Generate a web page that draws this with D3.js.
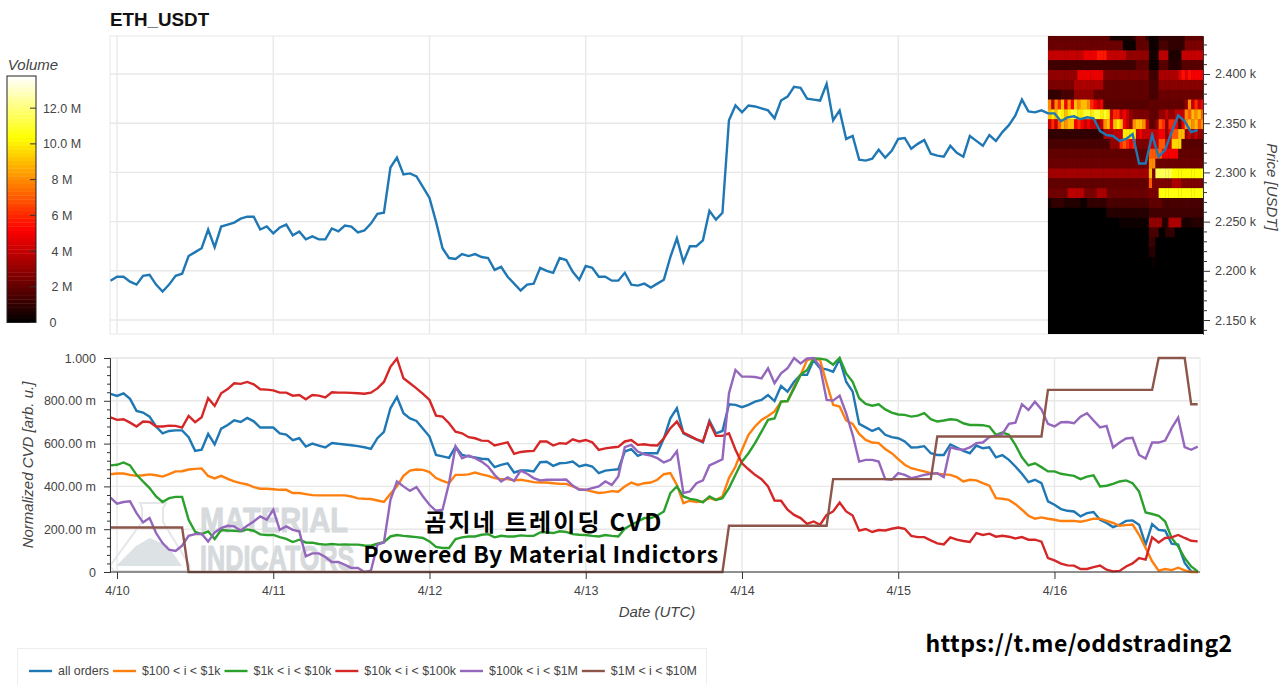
<!DOCTYPE html>
<html>
<head>
<meta charset="utf-8">
<script src="https://cdn.jsdelivr.net/npm/d3@7"></script>
<style>
	html, body { margin: 0; padding: 0; background: #fff; overflow: hidden; }
	svg { display: block; }
	text { font-family: "Liberation Sans", Arial, sans-serif; }
	.overlay { font-family: "Noto Sans CJK KR", "Noto Sans", sans-serif; font-weight: 700; fill: #000; }
	.tick text { fill: #444; }
</style>
</head>
<body>
<script>
const width = 1280
const height = 685

// hourly close, USDT
const price = [
	2190,2194,2194,2189,2186,2195,2196,2186,2179,2186,2195,2197,2215,2219,2223,2242,2224,2245,2247,2249,
	2253,2255,2255,2242,2245,2238,2244,2247,2236,2240,2232,2235,2232,2232,2243,2240,2246,2245,2239,2241,
	2248,2258,2259,2305,2315,2298,2299,2296,2285,2274,2250,2223,2213,2212,2217,2215,2217,2214,2213,2201,
	2204,2194,2187,2180,2186,2187,2203,2200,2198,2213,2211,2199,2191,2205,2203,2194,2194,2190,2190,2198,
	2186,2185,2187,2183,2187,2191,2214,2233,2209,2225,2225,2231,2261,2252,2259,2353,2368,2361,2368,2367,
	2365,2363,2355,2373,2377,2387,2386,2375,2374,2373,2390,2353,2363,2334,2337,2313,2312,2314,2323,2315,
	2322,2334,2335,2324,2329,2333,2319,2317,2316,2327,2320,2316,2337,2332,2327,2338,2332,2341,2348,2358,
	2374,2362,2361,2363,2360,2360,2352,2356,2357,2354,2356,2355,2342,2338,2337,2332,2334,2339,2309,2309,
	2338,2316,2323,2341,2358,2352,2341,2343
]

// normalized CVD, milli units
const allOrders = [
	832,823,835,809,753,745,726,680,648,659,662,662,630,566,572,645,596,670,687,709,
	701,720,704,675,675,675,648,642,616,625,586,600,591,582,603,599,596,592,588,583,
	575,625,655,765,818,742,718,706,669,633,547,540,533,586,547,540,535,529,527,490,
	501,508,465,474,474,470,513,515,496,508,510,516,493,501,493,462,474,477,480,563,
	574,543,555,555,555,625,718,765,648,633,620,606,707,648,659,784,781,770,781,796,
	804,827,799,869,843,889,921,921,990,952,947,936,994,889,843,692,676,659,672,641,
	630,625,610,582,583,588,555,547,547,596,582,566,555,591,578,583,536,546,524,493,
	459,420,431,415,330,314,294,286,283,260,275,280,244,229,210,221,239,241,221,128,
	224,197,193,132,128,42,3,0
]
const orders100to1k = [
	457,460,460,454,449,452,456,452,446,457,470,471,479,482,484,449,437,449,435,423,
	415,409,397,389,389,387,384,384,369,369,364,359,358,358,358,358,358,353,344,342,
	341,334,327,365,400,449,474,479,477,467,439,426,415,454,454,456,465,456,449,439,
	434,434,428,431,426,420,418,418,415,412,412,400,387,384,376,369,372,378,375,400,
	418,407,415,418,431,457,462,407,322,333,327,330,345,337,353,439,493,571,641,680,
	711,729,750,796,799,866,921,990,998,990,882,781,773,708,692,645,617,605,602,575,
	555,527,501,485,477,470,462,459,456,454,443,423,431,428,415,403,345,342,337,317,
	291,263,249,255,249,244,238,238,239,235,241,249,249,239,229,216,219,222,174,112,
	50,6,14,9,20,8,0,0
]
const orders1kto10k = [
	498,501,512,498,454,423,392,353,327,345,351,351,244,188,177,190,154,196,194,193,
	190,199,193,176,173,173,163,155,140,151,138,137,131,128,131,128,129,128,128,124,
	123,132,140,166,173,169,166,163,159,143,117,112,112,154,162,166,166,174,177,162,
	169,166,166,171,169,169,185,185,182,190,187,177,174,173,169,166,173,169,166,202,
	221,236,252,252,264,283,369,400,353,342,337,325,353,337,345,392,454,516,555,602,
	656,711,718,796,799,858,921,944,998,997,991,969,1000,928,889,812,785,777,784,760,
	745,736,734,726,731,742,714,703,708,714,711,695,687,687,686,680,641,652,641,594,
	536,498,508,490,470,470,459,454,449,434,446,452,400,403,412,423,428,415,376,278,
	271,263,236,159,120,65,26,3
]
const orders10kto100k = [
	722,711,714,698,680,703,701,680,680,684,683,675,729,700,723,812,776,835,855,882,
	879,888,877,854,852,849,838,838,824,827,807,827,824,816,840,838,838,837,835,833,
	838,858,888,959,998,905,882,858,832,804,731,726,695,656,648,630,625,614,613,591,
	599,606,552,561,564,566,610,610,591,602,599,620,610,617,606,571,578,582,585,610,
	617,594,597,592,591,625,672,703,652,636,620,610,700,636,636,648,571,508,480,454,
	434,400,334,333,291,267,252,225,236,221,267,283,325,283,264,193,201,187,196,194,
	202,208,202,169,163,163,148,134,129,162,151,145,140,182,173,179,165,169,165,157,
	163,151,151,142,65,54,39,31,30,14,14,23,30,11,3,5,26,40,65,58,
	162,138,159,162,173,159,146,143
]
const orders100kto1M = [
	348,319,327,330,275,232,252,182,135,104,98,123,169,177,179,142,185,205,216,213,
	194,216,236,260,244,291,197,213,197,190,73,87,87,70,47,47,34,19,19,0,
	6,128,138,337,423,400,379,397,353,314,286,291,415,586,532,544,532,516,493,454,
	423,442,426,474,459,439,428,431,431,431,432,404,384,384,392,400,423,407,446,583,
	594,563,550,544,532,512,524,564,369,376,415,428,498,512,527,835,944,913,913,911,
	905,952,882,928,952,1000,975,998,1000,959,804,801,824,742,641,516,524,524,516,434,
	431,462,454,439,446,454,459,462,443,582,575,571,582,602,605,630,636,645,692,698,
	784,757,796,760,692,680,700,701,695,726,742,708,676,683,582,605,624,627,547,530,
	605,605,614,672,721,583,571,586
]
const orders1Mto10M = [
	208,208,208,208,208,208,208,208,208,208,208,208,0,0,0,0,0,0,0,0,
	0,0,0,0,0,0,0,0,0,0,0,0,0,0,0,0,0,0,0,0,
	0,0,0,0,0,0,0,0,0,0,0,0,0,0,0,0,0,0,0,0,
	0,0,0,0,0,0,0,0,0,0,0,0,0,0,0,0,0,0,0,0,
	0,0,0,0,0,0,0,0,0,0,0,0,0,0,0,216,216,216,216,216,
	216,216,216,216,216,216,216,216,216,216,216,434,434,434,434,434,434,434,434,434,
	434,434,434,434,434,434,434,633,633,633,633,633,633,633,633,633,633,633,633,633,633,633,
	633,633,851,851,851,851,851,851,851,851,851,851,851,851,851,851,851,851,851,1000,
	1000,1000,1000,1000,784,784,784
]

const seriesNames = ['all orders', '$100 < i < $1k', '$1k < i < $10k', '$10k < i < $100k', '$100k < i < $1M', '$1M < i < $10M']
const seriesColors = ['#1f77b4', '#ff7f0e', '#2ca02c', '#d62728', '#9467bd', '#8c564b']
const cvdSeries = [allOrders, orders100to1k, orders1kto10k, orders10kto100k, orders100kto1M, orders1Mto10M]

// order book volume in M per half hour column, top price bin first
const heatTopPrice = 2444
const heatBinSize = 10
const heatRows = [
	[2,2,2,2,2,2,2,2,2,2,2,2,2,2,2,2,2,2,2,.5,.5,.5,.5,.5,.5,.5,1,2,2,2,1,.3,.3,.3,1,1,1,1,1,1,1,1,2,2,2,2,2,2],
	[2.2,2.2,2.2,2.2,2.2,2.2,2.2,2.2,2.2,2.2,2.2,2.2,2.2,2.2,2.2,2.2,2.2,2.2,2.2,2.2,2.2,2.2,2.2,.3,.3,.3,.3,2,2,2,2,.3,.3,.3,1.5,1.5,1.5,1,1,1,1,1,2.5,2.5,2.5,2.5,2.5,2.5],
	[4,4,4,4,4,4,4,4,4,4,4,4.8,4.8,4.8,4.8,5.6,5.6,5.6,4,4,4,4,4,4,3,3,3,3,3,3,3,.5,.5,.5,3.8,3.8,3.8,.6,.6,.6,.6,4,4,4,4,4,4,4],
	[1.3,1.3,1.3,1.3,1.3,1.3,1.3,1.3,1.3,1.3,1.3,1.3,1.3,1.3,1.3,1.3,1.3,1.3,1.3,1.3,1.3,1.3,1.3,1.3,1.3,1.3,1.3,2,2,2,2,.3,.3,.3,1.8,1.8,1.8,.8,.8,.8,.8,1.8,1.8,1.8,1.8,1.8,1.8,1.8],
	[3,3,3,3,3,3,3,3,3,4.8,4.8,4.8,4.8,4.8,4.8,4.8,4.8,2.5,2.5,2.5,2.5,2.5,2.5,2.5,2.5,2.5,2.5,2.5,2.5,2.5,2.5,1.3,1.3,1.3,3.5,3.5,3.5,3.5,3.5,3.5,4.5,5.5,4.5,5.5,5,5,5,5],
	[2.5,2.5,2.5,2.5,2.5,2.5,2.5,2.5,3.5,3.5,3.5,3.5,3.5,3.5,3.5,3.5,3.5,2,2,2,2,2,2,2,2,2,2,2,2,2,2,1.5,1.5,1.5,2.8,2.8,2.8,2.8,2.8,2.8,2.8,2.8,2.8,2.8,2.8,2.8,2.8,2.8],
	[1,1,1,1,1.5,1.5,1.5,1.5,3,3,3,3,3,3,2,2,2,2,2,2,2,2,2,2,2,2,2,2,2,2,2,1.5,1.5,1.5,2.2,2.2,2.2,2.2,2.2,2.2,2.2,2.2,2.2,2.2,2.2,2.2,2.2,2.2],
	[8,4,8,6,9,5,8,5,9,8,9,9,8,6,5,4,5,1.8,1.8,1.8,1.8,1.8,1.8,1.8,1.8,1.8,1.8,1.8,1.8,1.8,1.8,2,2,2,2,2,2,2,2,2,2,2,3,8,4,6,4,5],
	[9,10,9,11,10,9,10,11,11,10,10,11,11,10,11,11,10,11,10,4,6,6,4,5,4,3,2.5,2.5,2.5,2.5,2.5,2,2,2,3,3,4,3,3,4,4,4,8,7,9,8,9,7],
	[4,6,4,7,9,8,9,9,5,6,5,4,5,4,4,3,4,8,9,5,9,10,9,5,4,3,8,9,9,8,4,2,2,3,7,6,3,6,6,5,2,5,8,9,8,9,7,8],
	[1,1,1,1,1,1,1,1,1,1,1,1,1,1,1,1,1,3.5,3.5,3.5,4,4,4,10,10,10,10,4,5,4,4,4,4,4,5,5,3,5,7,7,9,9,3,4,3,4,3,3],
	[1.5,1.5,1.5,1.5,1.5,1.5,1.5,1.5,1.5,1.5,1.5,1.5,1.5,1.5,1.5,1.5,1.5,1.5,1.5,3,3,3,6,7,6,5,6,2.5,2.5,2.5,2.5,4,4,4,7,7,4,4,9.5,9.5,9.5,1.8,1.8,1.8,1.8,1.8,1.8,1.8],
	[2,2,2,2,2,2,2,2,2,2,2,2,2,2,2,2,2,2,2,2,2,2,2,2,2,2,2,2,2,2,2,7,7,7,7,5,5,5,5,5,2,2,2,2,2,2,2,2],
	[2.2,2.2,2.2,2.2,2.2,2.2,2.2,2.2,2.2,2.2,2.2,2.2,2.2,2.2,2.2,2.2,2.2,2.2,2.2,2.2,2.2,2.2,2.2,2.2,2.2,2.2,2.2,2.2,2.2,2.2,2.2,8,8,2.2,2.2,2.2,2.2,2.2,2.2,2.2,2.2,2.2,2.2,2.2,2.2,2.2,2.2,2.2],
	[3.3,3.3,3.3,3.3,3.3,3.3,3.3,3.3,3.3,3.3,3.3,3.3,3.3,3.3,3.3,3.3,3.3,3.3,3.3,3.3,3.3,3.3,3.3,3.3,3.3,3.3,3.3,3.3,3.3,3.3,3.3,9,2.5,11.5,11.5,11.5,11.5,11.5,10.3,10.3,10.3,10.3,10.3,10.3,10.3,10.3,10.3,10.3],
	[2,2,2,2,2,2,2,2,2,2,2,2,2,2,2,2,2,2,2,2,2,2,2,2,2,2,2,2,2,2,2,7,2.5,2.5,2.5,2.5,2.5,2.5,3.5,3.5,3.5,2.5,2.5,2.5,2.5,2.5,2.5,2.5],
	[2.3,2.3,2.3,2.3,2.3,2.3,3.8,3.8,3.8,3.8,3.8,2.5,2.5,2.5,2.5,3.5,3.5,3.5,2.2,2.2,2.2,2.2,2.2,2.2,2.2,2.2,2.2,2.2,2.2,2.2,2.2,2.5,2.5,2.5,10.5,10.5,10.5,10.5,10.5,10.5,10.5,10.5,10.5,10.5,10.5,10.5,10.5,10.5],
	[.5,1,1,1,1,.7,.7,.7,.7,.7,.3,.3,1,1,1,1,1,1,1.5,1.5,1.5,1.5,1.5,1.5,1.5,1.5,1.5,1.5,1.5,1.5,1.5,2,2,2,2,1.5,1.5,1.5,1.5,1.5,1.5,1.5,1.5,1.5,1.5,1.5,1.5,1.5],
	[.1,.1,.1,.1,.1,.1,.1,.1,.1,.1,.1,.1,.1,.1,.1,.1,.1,.1,.8,.8,.8,.8,.8,.8,.8,.8,.8,.8,.8,.8,.8,1.3,1.3,1.3,1.3,1.3,1.3,1.3,1.3,1.3,1.3,1.3,1.3,1.3,1.3,1.3,1.3,1.3],
	[.1,.1,.1,.1,.1,.1,.1,.1,.1,.1,.1,.1,.1,.1,.1,.1,.1,.1,.1,.1,.1,.1,.3,.3,.3,.3,.3,.3,.3,.3,.3,3,3,3,3,.8,.8,3.5,3.5,3.5,3.5,.5,.5,.5,.8,.8,.8,.8],
	[.1,.1,.1,.1,.1,.1,.1,.1,.1,.1,.1,.1,.1,.1,.1,.1,.1,.1,.1,.1,.1,.1,.1,.1,.1,.1,.1,.1,.1,.1,.1,1.5,1.5,1.5,.1,.1,1,1,1,.1,.1,.1,.1,.1,.1,.1,.1,.1],
	[0,0,0,0,0,0,0,0,0,0,0,0,0,0,0,0,0,0,0,0,0,0,0,0,0,0,0,0,0,0,0,1.2,1.2,0,0,0,0,0,0,0,0,0,0,0,0,0,0,0],
	[0,0,0,0,0,0,0,0,0,0,0,0,0,0,0,0,0,0,0,0,0,0,0,0,0,0,0,0,0,0,0,.8,.8,0,0,0,0,0,0,0,0,0,0,0,0,0,0,0],
	[0,0,0,0,0,0,0,0,0,0,0,0,0,0,0,0,0,0,0,0,0,0,0,0,0,0,0,0,0,0,0,0,.3,0,0,0,0,0,0,0,0,0,0,0,0,0,0,0]
]

const priceTicks = [2150, 2200, 2250, 2300, 2350, 2400]
const cvdTicks = [0, 200, 400, 600, 800, 1000]
const cvdTickLabels = ['0', '200.00 m', '400.00 m', '600.00 m', '800.00 m', '1.000']
const volumeTicks = [0, 2, 4, 6, 8, 10, 12]
const volumeTickLabels = ['0', '2 M', '4 M', '6 M', '8 M', '10.0 M', '12.0 M']

const times = d3.utcHour.range(new Date(Date.UTC(2021, 3, 9, 23)), new Date(Date.UTC(2021, 3, 16, 23)))
const heatStart = new Date(Date.UTC(2021, 3, 15, 23))

const topPlot = { left: 110, right: 1203, top: 36, bottom: 334 }
const bottomPlot = { left: 110, right: 1200, top: 358, bottom: 572 }
const gridColor = '#e8e8e8'
const axisColor = '#333'

const svg = d3.select('body')
	.append('svg')
	.attr('width', width)
	.attr('height', height)

const xScale = d3.scaleUtc()
	.domain([times[0], times[times.length - 1]])
	.range([110.5, 1197.7])

const priceScale = d3.scaleLinear()
	.domain([2135.8, 2438.6])
	.range([topPlot.bottom, topPlot.top])

const cvdScale = d3.scaleLinear()
	.domain([0, 1000])
	.range([bottomPlot.bottom, bottomPlot.top])

const volumeScale = d3.scaleLinear()
	.domain([0, 13.8])
	.range([322.5, 76])

const heatColor = d3.scaleLinear()
	.domain([0, 5.2, 10.35, 13.8])
	.range(['#000000', '#ff0000', '#ffff00', '#ffffff'])
	.clamp(true)

const days = d3.utcDay.range(new Date(Date.UTC(2021, 3, 10)), new Date(Date.UTC(2021, 3, 17)))
const dayFormat = d3.utcFormat('%-m/%-d')

// grids
const drawGrid = (plot, yScale, yTicks) => {
	const g = svg.append('g')
	g.selectAll('.v').data(days).enter().append('line')
		.attr('x1', d => xScale(d)).attr('x2', d => xScale(d))
		.attr('y1', plot.top).attr('y2', plot.bottom)
		.attr('stroke', gridColor).attr('stroke-width', 1.4)
	g.selectAll('.h').data(yTicks).enter().append('line')
		.attr('x1', plot.left).attr('x2', plot.right)
		.attr('y1', d => yScale(d)).attr('y2', d => yScale(d))
		.attr('stroke', gridColor).attr('stroke-width', 1.4)
	g.append('rect')
		.attr('x', plot.left).attr('y', plot.top)
		.attr('width', plot.right - plot.left).attr('height', plot.bottom - plot.top)
		.attr('fill', 'none').attr('stroke', gridColor)
}

drawGrid(topPlot, priceScale, priceTicks)
drawGrid(bottomPlot, cvdScale, cvdTicks)

// heatmap, soft edges like the reference raster
const defs = svg.append('defs')
defs.append('clipPath').attr('id', 'top-clip').append('rect')
	.attr('x', topPlot.left).attr('y', topPlot.top)
	.attr('width', topPlot.right - topPlot.left).attr('height', topPlot.bottom - topPlot.top)
defs.append('filter').attr('id', 'soft')
	.attr('x', '-2%').attr('y', '-2%').attr('width', '104%').attr('height', '104%')
	.append('feGaussianBlur').attr('stdDeviation', 0.7)

const heatClip = svg.append('g').attr('clip-path', 'url(#top-clip)')
heatClip.append('rect')
	.attr('x', xScale(heatStart)).attr('y', topPlot.top)
	.attr('width', topPlot.right - xScale(heatStart)).attr('height', topPlot.bottom - topPlot.top)
	.attr('fill', heatColor(0))
const heat = heatClip.append('g').attr('filter', 'url(#soft)')

heatRows.forEach((row, r) => {
	const binTop = heatTopPrice - r * heatBinSize
	heat.selectAll(null).data(row).enter().append('rect')
		.attr('x', (d, c) => xScale(d3.utcMinute.offset(heatStart, c * 30)))
		.attr('y', priceScale(binTop))
		.attr('width', (d, c) => xScale(d3.utcMinute.offset(heatStart, (c + 1) * 30)) - xScale(d3.utcMinute.offset(heatStart, c * 30)) + 0.4)
		.attr('height', priceScale(binTop - heatBinSize) - priceScale(binTop) + 0.4)
		.attr('fill', d => heatColor(d))
})

// watermark sits under the lines
const mark = svg.append('g').attr('fill', '#d6dadc')
mark.append('path')
	.attr('d', 'M140 503 L166 503 L163 508 L163 522 L190 566 L186 571 L114 571 L110 566 L142 522 L142 508 Z')
	.attr('fill', 'none').attr('stroke', '#e4e6e8').attr('stroke-width', 2)
mark.append('path')
	.attr('d', 'M116 566 L136 546 L150 538 L168 546 L182 566 Z')
	.attr('fill', '#dde3e5')
mark.append('text').attr('transform', 'translate(200,532) scale(0.83,1)').attr('font-size', 35).attr('font-weight', 700)
	.attr('stroke', '#d6dadc').attr('stroke-width', 1)
	.style('font-family', '"Liberation Sans"').text('MATERIAL')
mark.append('text').attr('transform', 'translate(200,570) scale(0.72,1)').attr('font-size', 35).attr('font-weight', 700)
	.attr('stroke', '#d6dadc').attr('stroke-width', 1)
	.style('font-family', '"Liberation Sans"').text('INDICATORS')

// lines
const lineMaker = yScale => d3.line()
	.x((d, i) => xScale(times[i]))
	.y(d => yScale(d))

svg.append('path')
	.attr('d', lineMaker(priceScale)(price))
	.attr('fill', 'none')
	.attr('stroke', seriesColors[0])
	.attr('stroke-width', 2.4)

svg.selectAll('.cvd').data(cvdSeries).enter().append('path')
	.attr('class', 'cvd')
	.attr('d', d => lineMaker(cvdScale)(d))
	.attr('fill', 'none')
	.attr('stroke', (d, i) => seriesColors[i])
	.attr('stroke-width', 2.4)

// axes
const styleAxis = (g, fontSize) => {
	g.selectAll('.domain').attr('stroke', axisColor)
	g.selectAll('.tick line').attr('stroke', axisColor)
	g.selectAll('.tick text').attr('font-size', fontSize)
	g.attr('font-family', null)
}

const priceMinor = d3.range(2140, 2440, 10).filter(d => d % 50 !== 0)
svg.append('g')
	.attr('transform', `translate(${topPlot.right},0)`)
	.call(d3.axisRight(priceScale).tickValues(priceMinor).tickSize(4).tickFormat('').tickSizeOuter(0))
	.call(g => g.selectAll('.tick line').attr('stroke', axisColor))
	.call(g => g.select('.domain').attr('stroke', axisColor))
svg.append('g')
	.attr('transform', `translate(${topPlot.right},0)`)
	.call(d3.axisRight(priceScale).tickValues(priceTicks).tickSize(7).tickPadding(5).tickSizeOuter(0)
		.tickFormat(d => `${d3.format('.3f')(d / 1000)} k`))
	.call(g => styleAxis(g, 12.5))

const cvdMinor = d3.range(0, 1001, 40).filter(d => d % 200 !== 0)
svg.append('g')
	.attr('transform', `translate(${bottomPlot.left},0)`)
	.call(d3.axisLeft(cvdScale).tickValues(cvdMinor).tickSize(3).tickFormat('').tickSizeOuter(0))
	.call(g => g.selectAll('.tick line').attr('stroke', axisColor))
	.call(g => g.select('.domain').attr('stroke', axisColor))
svg.append('g')
	.attr('transform', `translate(${bottomPlot.left},0)`)
	.call(d3.axisLeft(cvdScale).tickValues(cvdTicks).tickSize(6).tickPadding(8).tickSizeOuter(0)
		.tickFormat((d, i) => cvdTickLabels[i]))
	.call(g => styleAxis(g, 12.5))

svg.append('g')
	.attr('transform', `translate(0,${bottomPlot.bottom})`)
	.call(d3.axisBottom(xScale).tickValues(days).tickSize(7).tickPadding(7).tickFormat(dayFormat).tickSizeOuter(0))
	.call(g => styleAxis(g, 12.5))
	.call(g => g.select('.domain').attr('d', `M${bottomPlot.left},0H${bottomPlot.right}`))

// titles
svg.append('text').attr('x', 110).attr('y', 26)
	.attr('font-size', 18.8).attr('font-weight', 700).attr('fill', '#111').text('ETH_USDT')

const axisLabel = (x, y, rotate, text) => svg.append('text')
	.attr('transform', `translate(${x},${y}) rotate(${rotate})`)
	.attr('text-anchor', 'middle')
	.attr('font-size', 15).attr('font-style', 'italic').attr('fill', '#444')
	.text(text)

axisLabel(33, 465, -90, 'Normalized CVD [arb. u.]')
axisLabel(657, 617, 0, 'Date (UTC)')
axisLabel(1267, 187, 90, 'Price [USDT]')
axisLabel(33, 70, 0, 'Volume')

// colorbar
const barSteps = d3.range(64)
const barStep = (volumeScale.domain()[1]) / barSteps.length
svg.append('g').selectAll('rect').data(barSteps).enter().append('rect')
	.attr('x', 7).attr('width', 29)
	.attr('y', d => volumeScale((d + 1) * barStep))
	.attr('height', d => volumeScale(d * barStep) - volumeScale((d + 1) * barStep) + 0.4)
	.attr('fill', d => heatColor((d + 0.5) * barStep))
svg.append('rect')
	.attr('x', 7).attr('y', volumeScale.range()[1])
	.attr('width', 29).attr('height', volumeScale.range()[0] - volumeScale.range()[1])
	.attr('fill', 'none').attr('stroke', '#222').attr('stroke-width', 1)

const volumeAxis = svg.append('g')
volumeAxis.selectAll('line').data(volumeTicks).enter().append('line')
	.attr('x1', 30).attr('x2', 36)
	.attr('y1', d => volumeScale(d)).attr('y2', d => volumeScale(d))
	.attr('stroke', '#333')
volumeAxis.selectAll('text').data(volumeTicks).enter().append('text')
	.attr('x', d => d === 0 ? 53 : 62)
	.attr('y', d => volumeScale(d) + 4.5)
	.attr('text-anchor', 'middle')
	.attr('font-size', 12.5).attr('fill', '#444')
	.text((d, i) => volumeTickLabels[i])

// legend
svg.append('rect')
	.attr('x', 17.5).attr('y', 648.5).attr('width', 689).attr('height', 50)
	.attr('fill', '#fff').attr('stroke', '#eee')

const legendY = 671
let legendX = 29
seriesNames.forEach((name, i) => {
	svg.append('line')
		.attr('x1', legendX).attr('x2', legendX + 23)
		.attr('y1', legendY).attr('y2', legendY)
		.attr('stroke', seriesColors[i]).attr('stroke-width', 2.4)
	const label = svg.append('text')
		.attr('x', legendX + 29).attr('y', legendY + 4)
		.attr('font-size', 12.4).attr('fill', '#444')
		.text(name)
	legendX += 29 + label.node().getComputedTextLength() + 4
})

// captions pasted over the chart
svg.append('text').attr('class', 'overlay')
	.attr('x', 544).attr('y', 531).attr('text-anchor', 'middle').attr('font-size', 24)
	.attr('letter-spacing', 2.2)
	.text('곰지네 트레이딩 CVD')
svg.append('text').attr('class', 'overlay')
	.attr('x', 541).attr('y', 563).attr('text-anchor', 'middle').attr('font-size', 23)
	.attr('letter-spacing', 0.6)
	.text('Powered By Material Indictors')
svg.append('text').attr('class', 'overlay')
	.attr('x', 1079).attr('y', 652).attr('text-anchor', 'middle').attr('font-size', 23)
	.attr('letter-spacing', 0.4)
	.text('https://t.me/oddstrading2')
</script>
</body>
</html>
